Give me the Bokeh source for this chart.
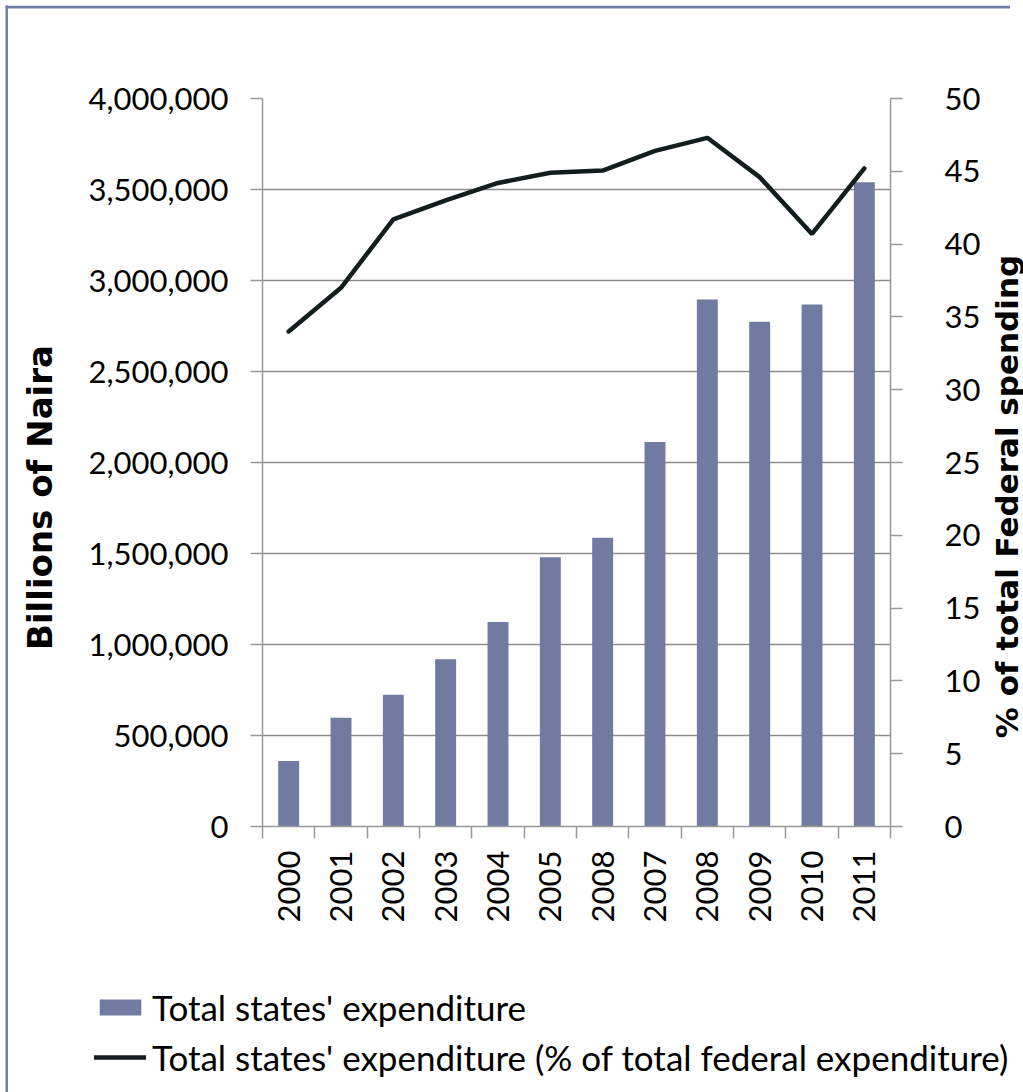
import math
from bokeh.plotting import figure
from bokeh.models import (Range1d, LinearAxis, FixedTicker, NumeralTickFormatter,
                          Legend, LegendItem, ColumnDataSource)
from bokeh.core.properties import value
from bokeh.embed import file_html
from bokeh.resources import INLINE

# ---- data ----
years = ["2000", "2001", "2002", "2003", "2004", "2005", "2008", "2007",
         "2008", "2009", "2010", "2011"]
expenditure = [360000, 597000, 724000, 919000, 1124000, 1480000, 1586000,
               2113000, 2896000, 2773000, 2868000, 3540000]
pct_federal = [34.0, 37.0, 41.7, 43.0, 44.2, 44.9, 45.05, 46.4, 47.3, 44.6,
               40.7, 45.2]
left_ticks = [0, 500000, 1000000, 1500000, 2000000, 2500000, 3000000,
              3500000, 4000000]
right_ticks = [0, 5, 10, 15, 20, 25, 30, 35, 40, 45, 50]
series_names = ["Total states' expenditure",
                "Total states' expenditure (% of total federal expenditure)"]
left_title = "Billions of Naira"
right_title = "% of total Federal spending"

idx = list(range(len(years)))
src = ColumnDataSource(dict(x=idx, year=years, exp=expenditure, pct=pct_federal))

FONT = "Lato"
TITLE_FONT = "DejaVu Sans"
GRAY = "#999999"
BAR = "#717BA1"
LINE = "#131d1d"
BORDER = "#7380A6"
TICK_FS = "31px"

p = figure(frame_width=628, frame_height=728,
           min_border_left=262, min_border_right=133,
           min_border_top=98, min_border_bottom=140,
           x_range=Range1d(-0.5, 11.5), y_range=Range1d(0, 4000000),
           output_backend="svg", toolbar_location=None,
           background_fill_color="white", border_fill_color="white")
p.outline_line_color = None
p.extra_y_ranges = {"pct": Range1d(0, 50)}

bars = p.vbar(x="x", top="exp", width=0.4, source=src,
              fill_color=BAR, line_color=None)
line = p.line(x="x", y="pct", source=src, y_range_name="pct",
              line_color=LINE, line_width=4.5, line_cap="round")

# x axis
xa = p.xaxis[0]
xa.ticker = FixedTicker(ticks=idx, minor_ticks=[i - 0.5 for i in range(len(years) + 1)])
xa.major_label_overrides = {i: y for i, y in enumerate(years)}
xa.major_tick_out = 0
xa.major_tick_in = 0
xa.minor_tick_out = 12
xa.minor_tick_in = 0
xa.minor_tick_line_color = GRAY
xa.minor_tick_line_width = 1.5
xa.axis_line_color = GRAY
xa.axis_line_width = 1.5
xa.major_label_orientation = math.pi / 2
xa.major_label_standoff = 12
xa.major_label_text_font = FONT
xa.major_label_text_font_size = TICK_FS
xa.major_label_text_color = "black"

# left axis
ya = p.yaxis[0]
ya.ticker = FixedTicker(ticks=left_ticks)
ya.formatter = NumeralTickFormatter(format="0,0")
ya.major_tick_out = 12
ya.major_tick_in = 0
ya.minor_tick_out = 0
ya.minor_tick_in = 0
ya.major_tick_line_color = GRAY
ya.major_tick_line_width = 1.5
ya.axis_line_color = GRAY
ya.axis_line_width = 1.5
ya.major_label_standoff = 22
ya.major_label_text_font = FONT
ya.major_label_text_font_size = TICK_FS
ya.major_label_text_color = "black"

# right axis
ra = LinearAxis(y_range_name="pct", ticker=FixedTicker(ticks=right_ticks))
ra.major_tick_out = 12
ra.major_tick_in = 0
ra.minor_tick_out = 0
ra.minor_tick_in = 0
ra.major_tick_line_color = GRAY
ra.major_tick_line_width = 1.5
ra.axis_line_color = GRAY
ra.axis_line_width = 1.5
ra.major_label_standoff = 42
ra.major_label_text_font = FONT
ra.major_label_text_font_size = TICK_FS
ra.major_label_text_color = "black"
p.add_layout(ra, "right")

p.xgrid.visible = False
p.ygrid.ticker = FixedTicker(ticks=left_ticks)
p.ygrid.grid_line_color = "#8c8c8c"
p.ygrid.grid_line_width = 1.5


def blank(w, h, left, top, fill="white", yr=None):
    f = figure(width=w, height=h, x_range=Range1d(0, w),
               y_range=yr if yr is not None else Range1d(h, 0),
               x_axis_type=None, y_axis_type=None, min_border=0,
               output_backend="svg", toolbar_location=None,
               background_fill_color=fill, border_fill_color=fill)
    f.outline_line_color = None
    f.grid.visible = False
    if left is not None:
        f.styles = {"position": "absolute", "left": f"{left}px", "top": f"{top}px"}
    return f


# ---- legend strip below the chart ----
LH = 126
lf = blank(1023, LH, None, None, yr=Range1d(0, LH))
lbar = lf.vbar(x=[-500], top=[-500], bottom=[-501], width=1, fill_color=BAR, line_color=None)
lline = lf.line(x=[-500, -499], y=[-500, -500], line_color=LINE, line_width=4.5,
                line_cap="round")
legend = Legend(items=[LegendItem(label=series_names[0], renderers=[lbar]),
                       LegendItem(label=series_names[1], renderers=[lline])],
                location=(94, 14))
legend.orientation = "vertical"
legend.glyph_width = 52
legend.glyph_height = 20
legend.label_standoff = 6
legend.label_height = 42
legend.spacing = 8
legend.padding = 0
legend.margin = 0
legend.border_line_color = None
legend.background_fill_alpha = 0
legend.label_text_font = FONT
legend.label_text_font_size = "35px"
legend.label_text_color = "black"
lf.add_layout(legend, "center")

# ---- axis titles ----
lt = blank(40, 560, 20, 217)
lt.text(x=[19], y=[280], text=[left_title], angle=math.pi / 2,
        text_align="center", text_baseline="middle",
        text_font=value(TITLE_FONT), text_font_style="bold",
        text_font_size="34px", text_color="black")

rt = blank(35, 540, 988, 226)
rt.text(x=[18], y=[270], text=[right_title], angle=math.pi / 2,
        text_align="center", text_baseline="middle",
        text_font=value(TITLE_FONT), text_font_style="bold",
        text_font_size="31px", text_color="black")

# ---- outer border (left and top edges only) ----
bt = blank(1010, 40, 0, 5)
bt.quad(left=[5], right=[1010], top=[0], bottom=[3], fill_color=BORDER, line_color=None)
bl = blank(3, 1087, 5, 5, fill=BORDER)

open("out.html", "w").write(file_html([p, lf, lt, rt, bt, bl], INLINE))
